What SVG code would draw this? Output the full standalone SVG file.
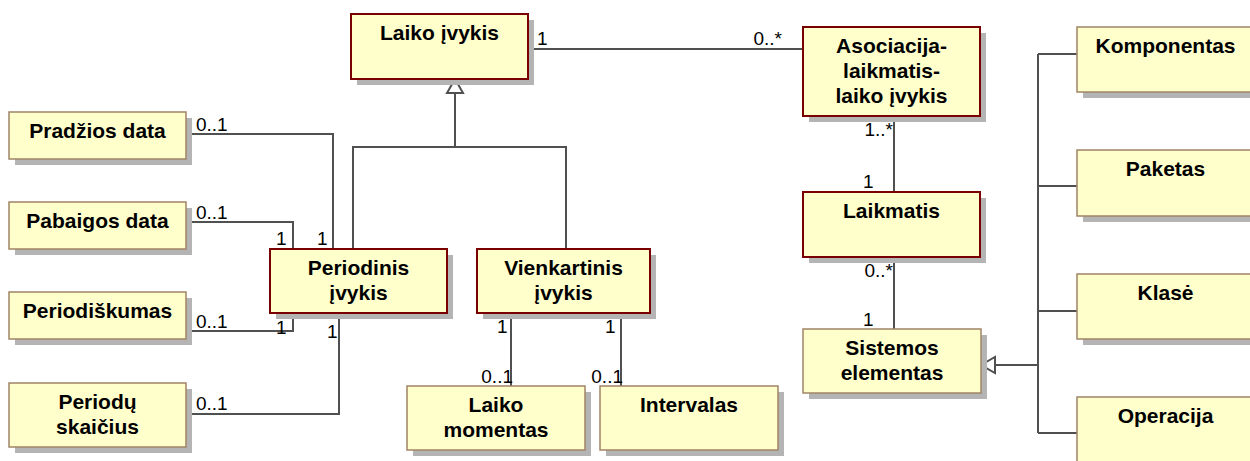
<svg xmlns="http://www.w3.org/2000/svg" width="1250" height="461" viewBox="0 0 1250 461">
  <style>
    .shadow { fill: #b4b4b4; }
    .box { fill: #ffffcc; stroke: #a08466; stroke-width: 1.5; }
    .box.main { stroke: #7a0000; stroke-width: 2; }
    .name { font-family: "Liberation Sans", Arial, sans-serif; font-size: 21px; font-weight: bold; fill: #000; text-anchor: middle; }
    .mult { font-family: "Liberation Sans", Arial, sans-serif; font-size: 19px; fill: #000; }
    .end { text-anchor: end; }
    .link { fill: none; stroke: #505050; stroke-width: 2; }
    .gen { fill: #fff; stroke: #505050; stroke-width: 2; }
  </style>

  <!-- connectors -->
  <g id="connectors">
    <!-- generalisation: Laiko įvykis <- Periodinis / Vienkartinis -->
    <polyline class="link" points="353,249 353,147 566,147 566,249"/>
    <line class="link" x1="455" y1="147" x2="455" y2="93"/>
    <polygon class="gen" points="455,79 447,93 463,93"/>
    <!-- Periodinis įvykis attributes -->
    <polyline class="link" points="187,134 333,134 333,249"/>
    <polyline class="link" points="187,222 293,222 293,249"/>
    <polyline class="link" points="187,331 293,331 293,313"/>
    <polyline class="link" points="187,414 339,414 339,313"/>
    <!-- Vienkartinis įvykis parts -->
    <line class="link" x1="511" y1="313" x2="511" y2="386"/>
    <line class="link" x1="621" y1="313" x2="621" y2="386"/>
    <!-- association chain on the right -->
    <line class="link" x1="527" y1="49" x2="803" y2="49"/>
    <line class="link" x1="894" y1="116" x2="894" y2="192"/>
    <line class="link" x1="894" y1="257" x2="894" y2="329"/>
    <!-- generalisation: Sistemos elementas <- subclasses -->
    <line class="link" x1="995" y1="365" x2="1038" y2="365"/>
    <line class="link" x1="1038" y1="54" x2="1038" y2="433"/>
    <line class="link" x1="1038" y1="54" x2="1077" y2="54"/>
    <line class="link" x1="1038" y1="186" x2="1077" y2="186"/>
    <line class="link" x1="1038" y1="311" x2="1077" y2="311"/>
    <line class="link" x1="1038" y1="433" x2="1077" y2="433"/>
    <polygon class="gen" points="981,365 995,357 995,373"/>

    <!-- multiplicities -->
    <text class="mult" x="537" y="45">1</text>
    <text class="mult end" x="782" y="45">0..*</text>
    <text class="mult" x="196" y="131">0..1</text>
    <text class="mult" x="196" y="219">0..1</text>
    <text class="mult" x="276" y="245">1</text>
    <text class="mult" x="317" y="245">1</text>
    <text class="mult" x="196" y="328">0..1</text>
    <text class="mult" x="276" y="334">1</text>
    <text class="mult" x="327" y="338">1</text>
    <text class="mult" x="196" y="410">0..1</text>
    <text class="mult" x="497" y="333">1</text>
    <text class="mult" x="605" y="333">1</text>
    <text class="mult end" x="513" y="383">0..1</text>
    <text class="mult end" x="623" y="383">0..1</text>
    <text class="mult end" x="893" y="136">1..*</text>
    <text class="mult" x="863" y="188">1</text>
    <text class="mult end" x="893" y="277">0..*</text>
    <text class="mult" x="863" y="326">1</text>
  </g>

  <g id="laiko-ivykis">
    <rect class="shadow" x="357" y="20" width="177" height="65"/>
    <rect class="box main" x="351" y="14" width="177" height="65"/>
    <text class="name" x="439.5" y="40">Laiko įvykis</text>
  </g>

  <g id="pradzios-data">
    <rect class="shadow" x="15" y="118" width="177" height="47"/>
    <rect class="box" x="9" y="112" width="177" height="47"/>
    <text class="name" x="97.5" y="138">Pradžios data</text>
  </g>

  <g id="pabaigos-data">
    <rect class="shadow" x="15" y="208" width="177" height="47"/>
    <rect class="box" x="9" y="202" width="177" height="47"/>
    <text class="name" x="97.5" y="228">Pabaigos data</text>
  </g>

  <g id="periodiskumas">
    <rect class="shadow" x="15" y="298" width="177" height="47"/>
    <rect class="box" x="9" y="292" width="177" height="47"/>
    <text class="name" x="97.5" y="318">Periodiškumas</text>
  </g>

  <g id="periodu-skaicius">
    <rect class="shadow" x="15" y="389" width="177" height="64"/>
    <rect class="box" x="9" y="383" width="177" height="64"/>
    <text class="name" x="97.5" y="409">Periodų</text>
    <text class="name" x="97.5" y="434">skaičius</text>
  </g>

  <g id="periodinis-ivykis">
    <rect class="shadow" x="276" y="255" width="177" height="64"/>
    <rect class="box main" x="270" y="249" width="177" height="64"/>
    <text class="name" x="358.5" y="275">Periodinis</text>
    <text class="name" x="358.5" y="300">įvykis</text>
  </g>

  <g id="vienkartinis-ivykis">
    <rect class="shadow" x="483" y="255" width="173" height="64"/>
    <rect class="box main" x="477" y="249" width="173" height="64"/>
    <text class="name" x="563.5" y="275">Vienkartinis</text>
    <text class="name" x="563.5" y="300">įvykis</text>
  </g>

  <g id="laiko-momentas">
    <rect class="shadow" x="413" y="392" width="178" height="64"/>
    <rect class="box" x="407" y="386" width="178" height="64"/>
    <text class="name" x="496" y="412">Laiko</text>
    <text class="name" x="496" y="437">momentas</text>
  </g>

  <g id="intervalas">
    <rect class="shadow" x="606" y="392" width="178" height="64"/>
    <rect class="box" x="600" y="386" width="178" height="64"/>
    <text class="name" x="689" y="412">Intervalas</text>
  </g>

  <g id="asociacija">
    <rect class="shadow" x="809" y="33" width="177" height="89"/>
    <rect class="box main" x="803" y="27" width="177" height="89"/>
    <text class="name" x="891.5" y="53">Asociacija-</text>
    <text class="name" x="891.5" y="78">laikmatis-</text>
    <text class="name" x="891.5" y="103">laiko įvykis</text>
  </g>

  <g id="laikmatis">
    <rect class="shadow" x="809" y="198" width="177" height="65"/>
    <rect class="box main" x="803" y="192" width="177" height="65"/>
    <text class="name" x="891.5" y="218">Laikmatis</text>
  </g>

  <g id="sistemos-elementas">
    <rect class="shadow" x="809" y="335" width="178" height="64"/>
    <rect class="box" x="803" y="329" width="178" height="64"/>
    <text class="name" x="892" y="355">Sistemos</text>
    <text class="name" x="892" y="380">elementas</text>
  </g>

  <g id="komponentas">
    <rect class="shadow" x="1083" y="33" width="177" height="65"/>
    <rect class="box" x="1077" y="27" width="177" height="65"/>
    <text class="name" x="1165.5" y="53">Komponentas</text>
  </g>

  <g id="paketas">
    <rect class="shadow" x="1083" y="156" width="177" height="66"/>
    <rect class="box" x="1077" y="150" width="177" height="66"/>
    <text class="name" x="1165.5" y="176">Paketas</text>
  </g>

  <g id="klase">
    <rect class="shadow" x="1083" y="280" width="177" height="65"/>
    <rect class="box" x="1077" y="274" width="177" height="65"/>
    <text class="name" x="1165.5" y="300">Klasė</text>
  </g>

  <g id="operacija">
    <rect class="shadow" x="1083" y="403" width="177" height="65"/>
    <rect class="box" x="1077" y="397" width="177" height="65"/>
    <text class="name" x="1165.5" y="423">Operacija</text>
  </g>
</svg>
